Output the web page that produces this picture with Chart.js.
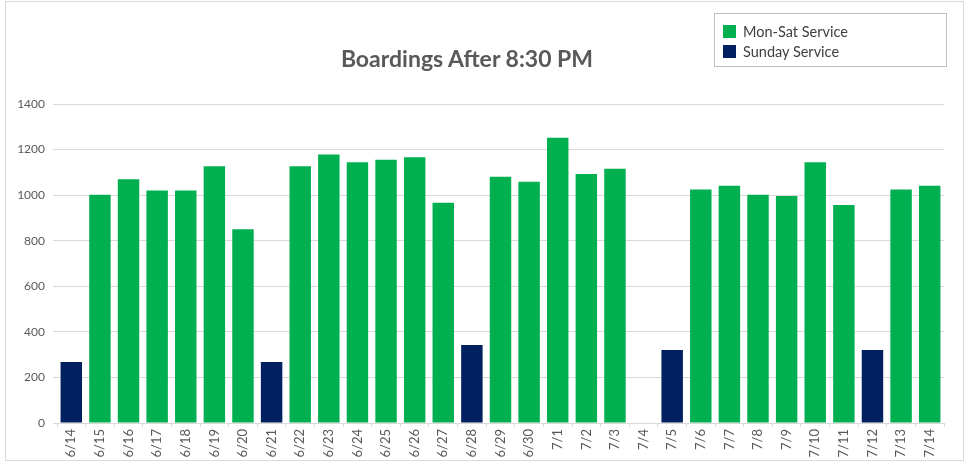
<!DOCTYPE html>
<html><head><meta charset="utf-8">
<script src="https://cdn.jsdelivr.net/npm/chart.js@4"></script>
<style>
body{margin:0;background:#fff;}
#wrap{position:relative;width:972px;height:466px;overflow:hidden;}
#c{position:absolute;left:0;top:0;}
#frame{position:absolute;left:5px;top:1px;width:957px;height:458px;border:1px solid #d9d9d9;pointer-events:none;}
#title{position:absolute;left:0;width:934px;top:44px;text-align:center;font:bold 23px Lato, sans-serif;color:#595959;}
#legend{position:absolute;left:714px;top:13px;width:233px;height:54px;border:1px solid #bfbfbf;box-sizing:border-box;font:14.5px Lato, sans-serif;color:#404040;padding-top:7px;}
.li{display:flex;align-items:center;height:20px;padding-left:8px;}
.sw{width:13px;height:13px;margin-right:7px;}
</style></head>
<body>
<div id="wrap">
<canvas id="c" width="972" height="466"></canvas>
<div id="frame"></div>
<div id="title">Boardings After 8:30 PM</div>
<div id="legend"></div>
</div>
<script>
const categories = ["6/14","6/15","6/16","6/17","6/18","6/19","6/20","6/21","6/22","6/23","6/24","6/25","6/26","6/27","6/28","6/29","6/30","7/1","7/2","7/3","7/4","7/5","7/6","7/7","7/8","7/9","7/10","7/11","7/12","7/13","7/14"];
const monSatService = [null,1002,1070,1020,1020,1127,850,null,1127,1178,1144,1155,1166,967,null,1081,1059,1252,1093,1116,null,null,1025,1041,1002,996,1144,957,null,1025,1041];
const sundayService = [268,null,null,null,null,null,null,268,null,null,null,null,null,null,342,null,null,null,null,null,null,320,null,null,null,null,null,null,320,null,null];
const yTicks = [0,200,400,600,800,1000,1200,1400];

const datasets = [
  {label:"Mon-Sat Service", data:monSatService, backgroundColor:"#00B050"},
  {label:"Sunday Service", data:sundayService, backgroundColor:"#002060"}
];

const chart = new Chart(document.getElementById('c'), {
  type:'bar',
  data:{labels:categories, datasets:datasets.map(d=>Object.assign({barPercentage:0.75,categoryPercentage:1,borderWidth:0},d))},
  options:{
    responsive:false, animation:false,
    layout:{padding:{top:104,right:28,left:0,bottom:0}},
    plugins:{legend:{display:false}, title:{display:false}, tooltip:{enabled:false}},
    scales:{
      x:{stacked:true,
        grid:{display:true,drawOnChartArea:false,offset:true,tickLength:4,color:'#d9d9d9'},
        border:{display:true,color:'#d9d9d9'},
        ticks:{minRotation:90,maxRotation:90,autoSkip:false,padding:2,color:'#595959',font:{family:'Lato',size:13}},
        afterFit:s=>{s.height=43;}
      },
      y:{stacked:true,min:0,max:1400,
        afterBuildTicks:s=>{s.ticks=yTicks.map(v=>({value:v}));},
        grid:{color:'#d9d9d9',tickLength:4},
        border:{display:false},
        ticks:{padding:8,color:'#595959',font:{family:'Lato',size:12},callback:v=>String(v)},
        afterFit:s=>{s.width=57;}
      }
    }
  }
});

const lg=document.getElementById('legend');
datasets.forEach(d=>{
  const row=document.createElement('div');row.className='li';
  const sw=document.createElement('span');sw.className='sw';sw.style.background=d.backgroundColor;
  const t=document.createElement('span');t.textContent=d.label;
  row.appendChild(sw);row.appendChild(t);lg.appendChild(row);
});
</script>
</body></html>
